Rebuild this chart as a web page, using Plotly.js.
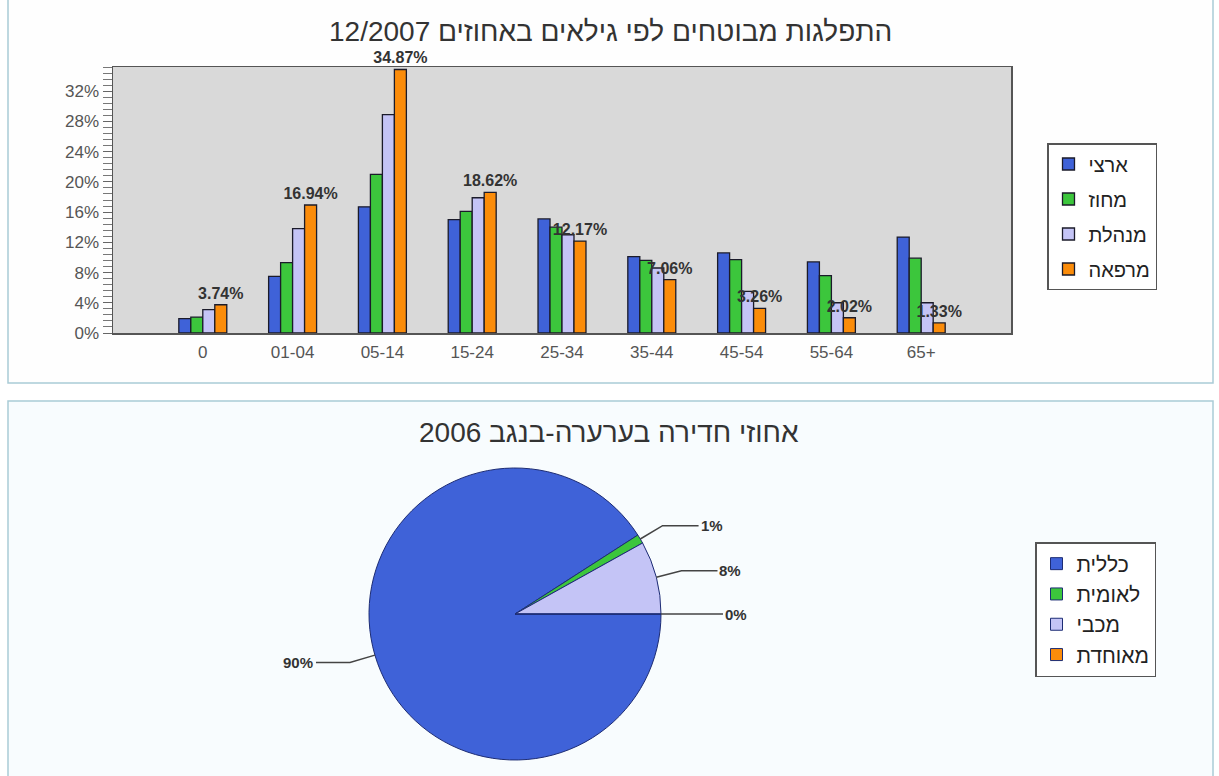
<!DOCTYPE html>
<html>
<head>
<meta charset="utf-8">
<script src="https://cdn.plot.ly/plotly-3.0.1.min.js"></script>
<style>
  html, body { margin: 0; padding: 0; background: #ffffff; }
  #chart { width: 1219px; height: 776px; }
</style>
</head>
<body>
<div id="chart"></div>
<script>
// ---------- data ----------
const ageGroups = ['0', '01-04', '05-14', '15-24', '25-34', '35-44', '45-54', '55-64', '65+'];
const seriesNames = ['ארצי', 'מחוז', 'מנהלת', 'מרפאה'];
const artzi    = [1.9, 7.5, 16.7, 15.0, 15.1, 10.1, 10.6, 9.4, 12.7];
const machoz   = [2.1, 9.3, 21.0, 16.1, 14.0, 9.6, 9.7, 7.6, 9.9];
const minhelet = [3.1, 13.8, 28.9, 17.9, 13.0, 8.6, 5.5, 4.0, 4.0];
const mirpaa   = [3.74, 16.94, 34.87, 18.62, 12.17, 7.06, 3.26, 2.02, 1.33];
const yTicks   = [0, 4, 8, 12, 16, 20, 24, 28, 32];

const pieLabels = ['כללית', 'לאומית', 'מכבי', 'מאוחדת'];
const pieValues = [90, 1, 8, 0];

const barTitle = 'התפלגות מבוטחים לפי גילאים באחוזים 12/2007';
const pieTitle = 'אחוזי חדירה בערערה-בנגב 2006';

// ---------- styling ----------
const W = 1219, H = 776;
const colors = ['#3f62d8', '#3cc63c', '#c4c4f6', '#fb8c0a'];
const FONT = 'Liberation Sans, Arial, DejaVu Sans, sans-serif';
const px = v => v / W;
const py = v => 1 - v / H;

const seriesData = [artzi, machoz, minhelet, mirpaa];
const traces = seriesData.map((vals, i) => ({
  type: 'bar',
  name: seriesNames[i],
  x: ageGroups,
  y: vals,
  legend: 'legend',
  legendgroup: 'g' + i,
  marker: { color: colors[i], line: { color: '#1b1b2a', width: 1.3 } },
  text: i === 3 ? vals.map(v => v.toFixed(2) + '%') : undefined,
  textposition: i === 3 ? 'outside' : 'none',
  textfont: { family: FONT, size: 16, color: '#333', weight: 'bold' },
  constraintext: 'none',
  cliponaxis: false,
  hoverinfo: 'x+y'
}));

// pie geometry (pixels)
const pieCx = 515, pieCy = 614, pieR = 146;
const pieDomain = { x: [px(pieCx - pieR), px(pieCx + pieR)], y: [py(pieCy + pieR), py(pieCy - pieR)] };

traces.push({
  type: 'pie',
  labels: pieLabels,
  values: pieValues,
  sort: false,
  direction: 'clockwise',
  rotation: 90,
  domain: pieDomain,
  legend: 'legend2',
  textinfo: 'none',
  marker: { colors: colors, line: { color: '#1d2c74', width: 1 } },
  hoverinfo: 'label+value'
});

// pie leader lines and labels computed from the values
const total = pieValues.reduce((a, b) => a + b, 0);
const shapes = [];
const annotations = [];
let cum = 0; // degrees clockwise from 3 o'clock
pieValues.forEach((v, i) => {
  const span = v / total * 360;
  const midCw = cum + span / 2;
  cum += span;
  const ang = -midCw * Math.PI / 180; // math angle (ccw positive)
  const ex = pieCx + pieR * Math.cos(ang), ey = pieCy - pieR * Math.sin(ang);
  const bx = pieCx + (pieR + 26) * Math.cos(ang), by = pieCy - (pieR + 26) * Math.sin(ang);
  const right = Math.cos(ang) >= 0;
  const hx = bx + (right ? 36 : -34);
  shapes.push({
    type: 'path', xref: 'paper', yref: 'paper',
    path: `M ${px(ex)} ${py(ey)} L ${px(bx)} ${py(by)} L ${px(hx)} ${py(by)}`,
    line: { color: '#444', width: 1.5 }
  });
  annotations.push({
    xref: 'paper', yref: 'paper', x: px(hx + (right ? 0 : -1)), y: py(by),
    xanchor: right ? 'left' : 'right', yanchor: 'middle', showarrow: false,
    text: Math.round(v) + '%',
    font: { family: FONT, size: 15, color: '#333', weight: 'bold' }
  });
});

// panel frames + plot area background (drawn in order, below the data)
shapes.unshift(
  { type: 'rect', xref: 'paper', yref: 'paper', layer: 'below',
    x0: px(8), x1: px(1213), y0: py(383), y1: py(-5),
    fillcolor: '#fefefe', line: { color: '#a9cbd6', width: 1.5 } },
  { type: 'rect', xref: 'paper', yref: 'paper', layer: 'below',
    x0: px(8), x1: px(1213), y0: py(790), y1: py(401),
    fillcolor: '#f8fcfe', line: { color: '#a9cbd6', width: 1.5 } },
  { type: 'rect', xref: 'x domain', yref: 'y domain', layer: 'below',
    x0: 0, x1: 1, y0: 0, y1: 1,
    fillcolor: '#d9d9d9', line: { width: 0 } }
);

annotations.push(
  { xref: 'paper', yref: 'paper', x: px(610), y: py(32), xanchor: 'center', yanchor: 'middle',
    showarrow: false, text: barTitle, font: { family: FONT, size: 28, color: '#333' } },
  { xref: 'paper', yref: 'paper', x: px(609), y: py(432), xanchor: 'center', yanchor: 'middle',
    showarrow: false, text: pieTitle, font: { family: FONT, size: 28, color: '#333' } }
);

const layout = {
  width: W, height: H,
  margin: { l: 0, r: 0, t: 0, b: 0 },
  paper_bgcolor: '#ffffff',
  plot_bgcolor: '#d9d9d9',
  font: { family: FONT, color: '#333' },
  barmode: 'group',
  bargap: 0.466,
  bargroupgap: 0,
  xaxis: {
    domain: [px(113), px(1011)],
    range: [-1, 9],
    type: 'category',
    showline: true, linecolor: '#555', linewidth: 1.5, mirror: true,
    ticks: '', showgrid: false, zeroline: false,
    tickfont: { family: FONT, size: 17, color: '#555' },
    ticklabelstandoff: 3,
    fixedrange: true
  },
  yaxis: {
    domain: [py(333), py(67)],
    range: [0, 35.2],
    showline: true, linecolor: '#555', linewidth: 1.5, mirror: true,
    tickmode: 'array', tickvals: yTicks, ticktext: yTicks.map(t => t + '%'),
    ticks: 'outside', ticklen: 9, tickcolor: '#666', tickwidth: 1,
    minor: { dtick: 0.8, tick0: 0, ticks: 'outside', ticklen: 9, tickcolor: '#777', tickwidth: 1, showgrid: false },
    showgrid: false, zeroline: false,
    tickfont: { family: FONT, size: 17, color: '#555' },
    fixedrange: true
  },
  legend: {
    x: px(1047), y: py(143), xanchor: 'left', yanchor: 'top',
    bgcolor: '#ffffff', bordercolor: '#555', borderwidth: 1.5,
    font: { family: FONT, size: 20, color: '#222' },
    traceorder: 'grouped', tracegroupgap: 6
  },
  legend2: {
    x: px(1035), y: py(542), xanchor: 'left', yanchor: 'top',
    bgcolor: '#ffffff', bordercolor: '#555', borderwidth: 1.5,
    font: { family: FONT, size: 21, color: '#222' }
  },
  shapes: shapes,
  annotations: annotations,
  showlegend: true
};

Plotly.newPlot('chart', traces, layout, { displayModeBar: false, staticPlot: true });
</script>
</body>
</html>
